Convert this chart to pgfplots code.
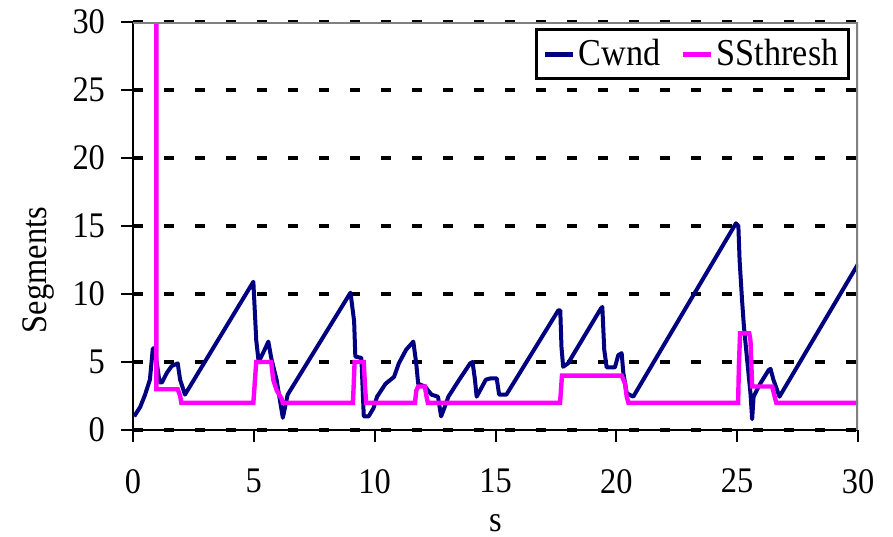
\documentclass[border=0pt]{standalone}
\usepackage{fontspec}
\setmainfont{Liberation Serif}[FakeStretch=0.9]
\usepackage{pgfplots}
\pgfplotsset{compat=1.18}
\definecolor{cw}{HTML}{000080}
\definecolor{ss}{HTML}{FF00FF}
\definecolor{frame}{HTML}{808080}
\begin{document}
\begin{tikzpicture}
\useasboundingbox (-66.5pt,-53pt) rectangle (380pt,215pt);
\begin{axis}[
  at={(0,0)}, anchor=south west,
  scale only axis, width=362.5pt, height=204pt,
  xmin=0, xmax=30, ymin=0, ymax=30,
  axis x line*=bottom, axis y line*=left,
  axis line style={line width=1.2pt, -},
  xtick={0,5,...,30}, ytick={0,5,...,30},
  tick align=outside, major tick length=6pt,
  tick style={line width=1pt, black},
  ymajorgrids,
  grid style={black, line width=1.6pt, dash pattern=on 5pt off 10.5pt},
  /pgf/number format/assume math mode=true,
  ticklabel style={font=\fontsize{18}{21}\selectfont},
  xticklabel shift={10pt},
  yticklabel shift={4.5pt},
  xlabel={s}, ylabel={Segments},
  label style={font=\fontsize{18}{21}\selectfont},
  xlabel style={at={(axis description cs:0.5,0)}, anchor=center, yshift=-46.5pt},
  ylabel style={at={(axis description cs:-0.131,0.392)}, anchor=center},
  legend style={at={(0.989,0.985)}, anchor=north east, draw=black, line width=1.5pt,
    font=\fontsize{19}{22}\selectfont, legend columns=2,
    inner sep=3pt,
    /tikz/every even column/.append style={column sep=8pt}},
  legend image code/.code={\draw[#1, line width=2.2pt] (0pt,0pt) -- (14pt,0pt);},
  clip=true,
]
\addplot[cw, line width=2pt, line join=round] coordinates {
(0.05,1.0) (0.3,1.7) (0.5,2.6) (0.7,3.7) (0.82,6.0) (0.9,6.0) (1.1,3.5)
(1.2,3.5) (1.4,4.2) (1.6,4.7) (1.85,4.9) (1.95,3.7) (2.15,2.6)
(4.98,10.9) (5.1,6.6) (5.2,5.0) (5.5,6.1) (5.6,6.5) (5.72,5.3) (5.94,3.7)
(6.2,0.9) (6.4,2.6) (9.0,10.1) (9.15,8.0) (9.2,5.4) (9.45,5.3) (9.55,1.0)
(9.75,1.0) (9.95,1.6) (10.1,2.45) (10.45,3.4) (10.8,3.9) (11.0,4.9)
(11.3,5.9) (11.6,6.5) (11.72,4.9) (11.8,3.4) (12.08,3.2) (12.35,2.6)
(12.62,2.45) (12.75,1.0) (12.9,1.7) (13.05,2.45) (13.5,3.7) (13.95,4.9)
(14.05,5.0) (14.15,3.7) (14.22,2.45) (14.6,3.7) (14.8,3.8) (15.05,3.8)
(15.15,2.6) (15.45,2.6) (17.6,8.8) (17.68,8.8) (17.73,6.1) (17.8,4.65)
(18.0,4.9) (19.35,8.9) (19.42,9.05) (19.5,5.9) (19.6,4.6) (19.94,4.6)
(20.08,5.5) (20.22,5.65) (20.29,4.2) (20.43,2.7) (20.7,2.45)
(24.95,15.2) (25.05,15.0) (25.1,12.5) (25.2,9.6) (25.28,7.6) (25.4,5.4)
(25.55,2.7) (25.62,0.8) (25.68,2.45) (25.95,3.4) (26.3,4.4) (26.38,4.5)
(26.5,3.7) (26.75,2.45) (30,12.2)
};
\addlegendentry{Cwnd}
\addplot[ss, line width=2.2pt, line join=miter] coordinates {
(0.97,31) (0.97,3.0) (1.85,3.0) (1.95,2.5) (2.0,2.0) (4.98,2.0) (5.02,3.0)
(5.1,5.0) (5.72,5.0) (5.8,3.7) (5.95,2.9) (6.15,2.3) (6.2,2.0) (9.1,2.0)
(9.13,3.2) (9.17,5.0) (9.55,5.0) (9.6,3.2) (9.65,2.0) (11.67,2.0)
(11.72,2.9) (11.8,3.2) (12.08,3.2) (12.13,2.6) (12.2,2.0) (17.67,2.0)
(17.7,2.7) (17.75,4.0) (20.22,4.0) (20.36,3.4) (20.43,2.45) (20.5,2.0)
(25.04,2.0) (25.07,4.6) (25.12,7.1) (25.5,7.1) (25.55,6.6) (25.62,3.2)
(26.45,3.2) (26.55,2.45) (26.62,2.0) (30,2.0)
};
\addlegendentry{SSthresh}
\draw[frame, line width=1.8pt] (rel axis cs:0,1) -- (rel axis cs:1,1) -- (rel axis cs:1,0);
\end{axis}
\end{tikzpicture}
\end{document}
